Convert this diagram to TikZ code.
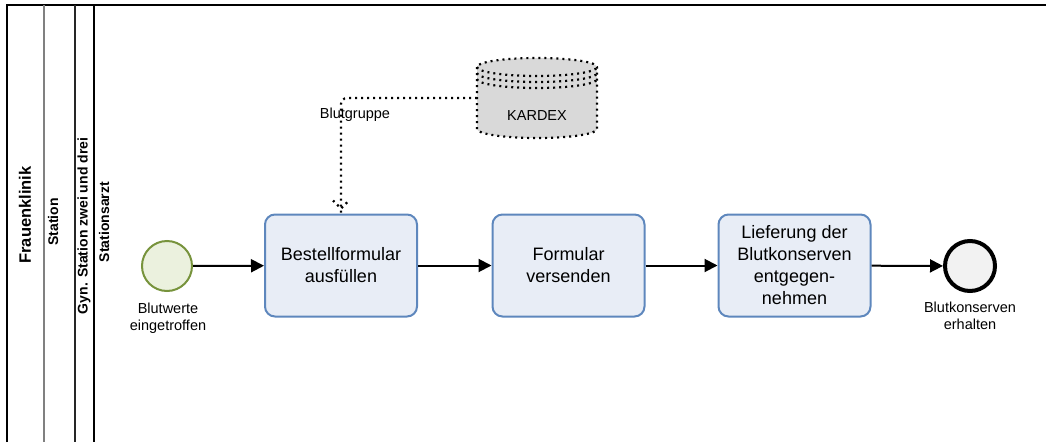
\documentclass[tikz,border=0pt]{standalone}
\usepackage{fontspec}
\setmainfont{Liberation Sans}
\usetikzlibrary{arrows.meta,calc}
\definecolor{taskfill}{RGB}{232,237,246}
\definecolor{taskdraw}{RGB}{94,135,189}
\definecolor{startfill}{RGB}{235,241,222}
\definecolor{startdraw}{RGB}{119,147,60}
\definecolor{endfill}{RGB}{242,242,242}
\definecolor{storefill}{RGB}{217,217,217}
\definecolor{lanegray}{RGB}{128,128,128}
\begin{document}
\begin{tikzpicture}[x=1pt,y=-1pt,
  task/.style={draw=taskdraw, fill=taskfill, line width=2pt, rounded corners=10pt,
    minimum width=152pt, minimum height=102pt, align=center, inner sep=0pt,
    font=\fontsize{18}{22}\selectfont},
  startev/.style={circle, draw=startdraw, fill=startfill, line width=2pt, minimum size=50pt, inner sep=0pt},
  endev/.style={circle, draw=black, fill=endfill, line width=4pt, minimum size=50pt, inner sep=0pt},
  lbl/.style={align=center, inner sep=0pt, font=\fontsize{14.5}{17}\selectfont},
  lanetxt/.style={rotate=90, inner sep=0pt, font=\bfseries\fontsize{14}{16}\selectfont},
  flow/.style={line width=2pt, -{Triangle[length=13pt,width=13pt]}},
  assoc/.style={line width=2.2pt, dash pattern=on 2pt off 4pt},
]
\useasboundingbox (0,0) rectangle (1046,442);

% pool and lanes
\draw[line width=2.5pt] (7,442) -- (7,5) -- (1046,5);
\draw[lanegray, line width=2pt] (44,5) -- (44,442);
\draw[black!85, line width=2pt] (75,5) -- (75,442);
\draw[black, line width=1.3pt] (94,5) -- (94,442);

\node[lanetxt, font=\bfseries\fontsize{16.5}{18}\selectfont] (pool) at (25,215) {Frauenklinik};
\node[lanetxt] (laneA) at (53,222) {Station};
\node[lanetxt] (laneB) at (84,226) {Gyn. Station zwei und drei};
\node[lanetxt] (laneC) at (104,222) {Stationsarzt};

% events and tasks
\node[startev] (start) at (167,266) {};
\node[lbl] (startlbl) at (168,318) {Blutwerte\\eingetroffen};
\node[task] (box1) at (341,265.5) {Bestellformular\\ausfüllen};
\node[task] (box2) at (568.5,265.5) {Formular\\versenden};
\node[task] (box3) at (794.5,265.5) {Lieferung der\\Blutkonserven\\entgegen-\\nehmen};
\node[endev] (end) at (970,266) {};
\node[lbl] (endlbl) at (970,316) {Blutkonserven\\erhalten};

% data store
\path[fill=storefill] (477,67) -- (477,129) arc[start angle=180,end angle=360,x radius=60pt,y radius=9pt]
  -- (597,67) arc[start angle=0,end angle=180,x radius=60pt,y radius=9pt] -- cycle;
\draw[assoc] (477,67) -- (477,129) arc[start angle=180,end angle=360,x radius=60pt,y radius=9pt]
  -- (597,67) arc[start angle=0,end angle=180,x radius=60pt,y radius=9pt];
\draw[assoc] (477,67) arc[start angle=180,end angle=360,x radius=60pt,y radius=9pt];
\draw[assoc] (477,73) arc[start angle=180,end angle=360,x radius=60pt,y radius=9pt];
\draw[assoc] (477,79) arc[start angle=180,end angle=360,x radius=60pt,y radius=9pt];
\node[minimum width=120pt, minimum height=80pt, inner sep=0pt, outer sep=0pt] (kardex) at (537,98) {};
\node[lbl] (kardexlbl) at (537,116) {KARDEX};

% flows
\draw[flow] (start) -- (box1);
\draw[flow] (box1) -- (box2);
\draw[flow] (box2) -- (box3);
\draw[flow] (box3) -- (end);

% association
\draw[assoc, rounded corners=6pt] (kardex.west) -| (box1.north);
\draw[assoc] ($(box1.north)+(-8,-13)$) -- ($(box1.north)+(0,-5)$) -- ($(box1.north)+(8,-13)$);
\node[lbl] (assoclbl) at (355,115) {Blutgruppe};
\end{tikzpicture}
\end{document}
